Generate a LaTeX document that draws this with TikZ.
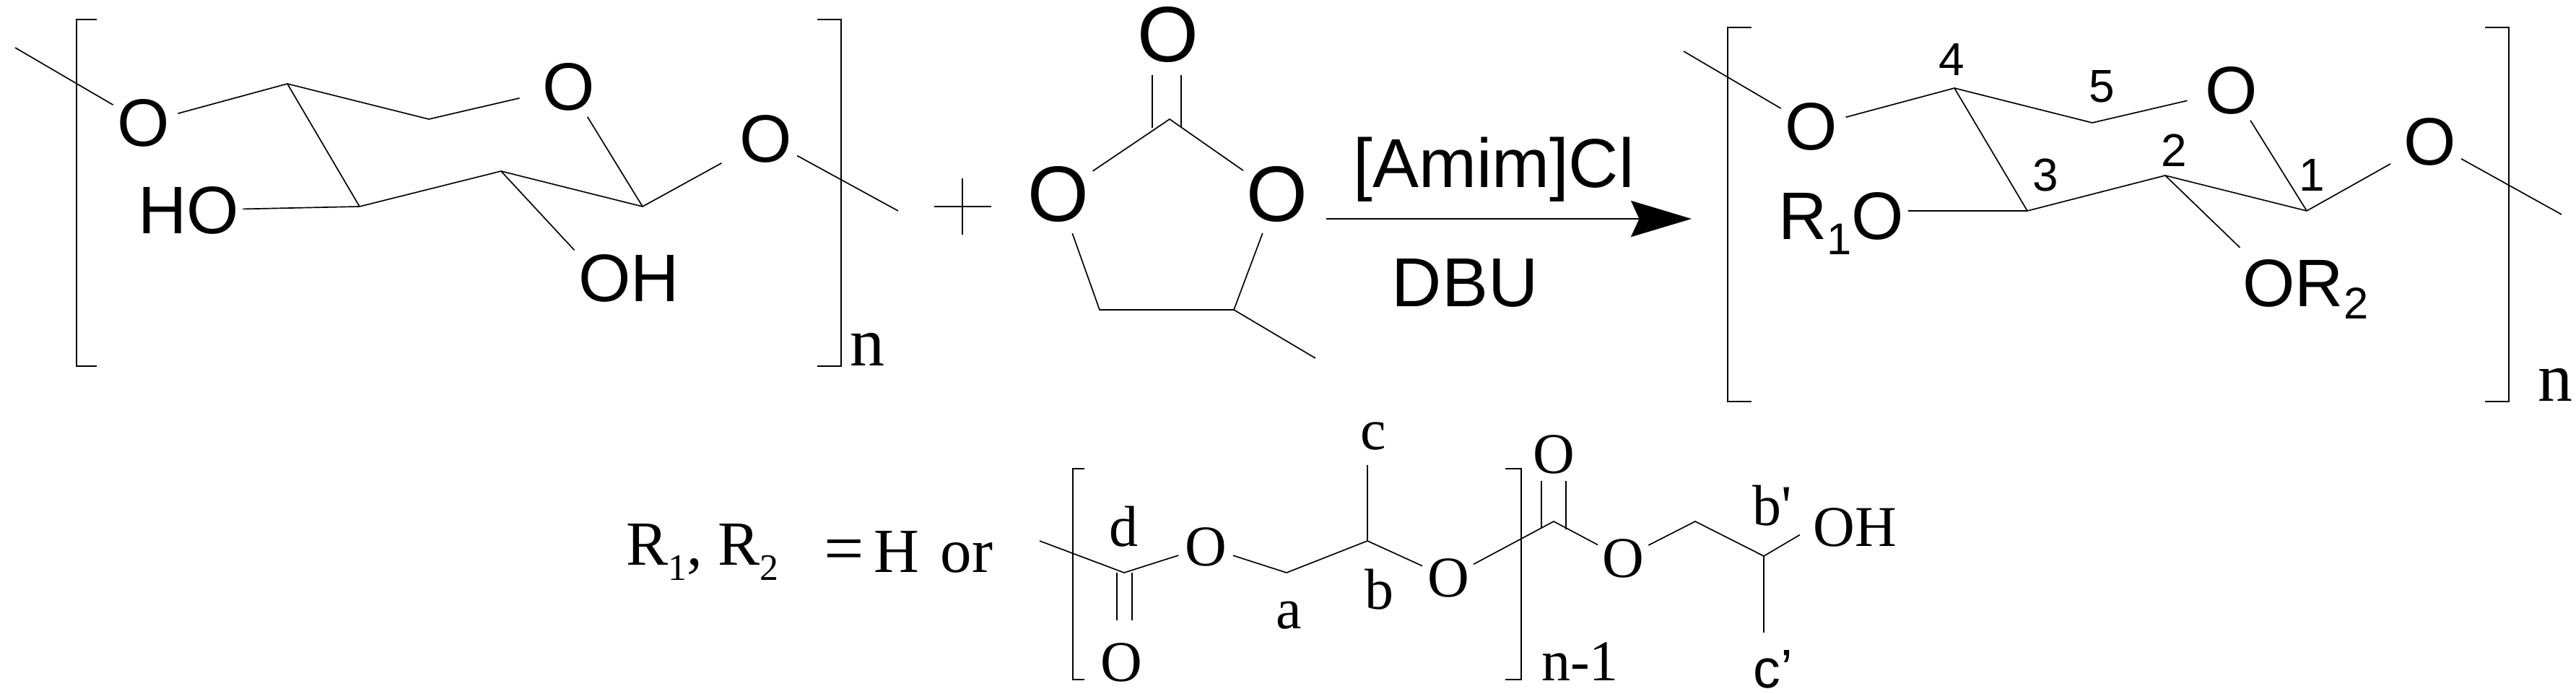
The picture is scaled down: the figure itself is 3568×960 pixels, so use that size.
\documentclass[tikz,border=0pt]{standalone}
\usepackage{fontspec}
\setmainfont{Liberation Sans}
\newfontfamily\timesfont{Liberation Serif}
\usetikzlibrary{arrows.meta}
% sizes below are pt for a picture drawn at 1 unit = 1 pixel of the reference
\def\lowerone#1{\raisebox{-12pt}{\fontsize{35}{35}\selectfont #1}}
\def\lowertwo#1{\raisebox{-10pt}{\fontsize{35}{35}\selectfont #1}}
\def\lowerthree#1{\raisebox{-12pt}{\fontsize{29.5}{30}\selectfont #1}}
\tikzset{
  bond/.style={line width=0.95pt},
  bracket/.style={line width=0.9pt},
  atom/.style={circle,inner sep=0pt,font=\fontsize{53}{53}\selectfont},
  bigatom/.style={circle,inner sep=0pt,font=\fontsize{62}{62}\selectfont},
  group/.style={inner sep=3pt,font=\fontsize{53}{53}\selectfont},
  reagent/.style={inner sep=0pt,anchor=base,font=\fontsize{54.6}{55}\selectfont},
  locant/.style={inner sep=0pt,font=\fontsize{36.4}{37}\selectfont},
  times/.style={inner sep=0pt,font=\timesfont\fontsize{45.5}{46}\selectfont},
  timesatom/.style={circle,inner sep=0pt,font=\timesfont\fontsize{45.5}{46}\selectfont},
  repeat/.style={inner sep=0pt,anchor=base west,font=\timesfont\fontsize{54.6}{55}\selectfont},
  legend/.style={inner sep=0pt,anchor=base west,font=\timesfont\fontsize{49.5}{50}\selectfont},
}
\begin{document}
\begin{tikzpicture}[x=0.02cm,y=-0.02cm]
	\useasboundingbox (0,0) rectangle (3568,960);

	%%%%% cellulose %%%%%
	\node[atom] (oa) at (199,170) {O};
	\node[atom] (ob) at (788,120) {O};
	\node[atom] (oc) at (1061,192) {O};
	\node[group] (ho) at (261,291) {HO};
	\node[group] (oh) at (871,385) {OH};
	\coordinate (ca) at (398,116);
	\coordinate (cb) at (594,165);
	\coordinate (cc) at (498,286);
	\coordinate (cd) at (694,237);
	\coordinate (ce) at (890,286);
	\coordinate (enda) at (21,66);
	\coordinate (endb) at (1244,292);
	\draw[bond] (enda) -- (oa);
	\draw[bond] (oa) -- (ca) -- (cb);
	\draw[bond,shorten >=12] (cb) -- (ob);
	\draw[bond] (ca) -- (cc) -- (cd) -- (ce);
	\draw[bond,shorten >=12] (ce) -- (oc);
	\draw[bond] (ob) -- (ce);
	\draw[bond] (oc) -- (endb);
	\draw[bond] (ho) -- (cc);
	\draw[bond] (cd) -- (oh.north west);
	\draw[bracket] (134,27) -| (106,507) -- (134,507);
	\draw[bracket] (1132,27) -| (1165,507) -- (1132,507);
	\node[repeat] (na) at (1177,506) {n};

	\draw[line width=0.8pt] (1294,286) -- (1373,286) (1333,247) -- (1333,325);

	%%%%% carbonate %%%%%
	\node[bigatom] (od) at (1466,269) {O};
	\node[bigatom] (oe) at (1769,269) {O};
	\node[bigatom] (of) at (1618,48) {O};
	\coordinate (cf) at (1620,165);
	\coordinate (cg) at (1523,429);
	\coordinate (ch) at (1709,429);
	\coordinate (endc) at (1822,496);
	\draw[bond] (od) -- (cf) -- (oe);
	\draw[bond] (od) -- (cg) -- (ch) -- (oe);
	\draw[bond] (ch) -- (endc);
	\draw[bond] (1596,104) -- (1596,177) (1636,104) -- (1636,176);

	%%%%% arrow %%%%%
	\coordinate (arrowa) at (1837,303);
	\coordinate (arrowb) at (2343,303);
	\draw[line width=1.4pt,-{Stealth[length=47.8pt,width=28.5pt,inset=6.5pt]}] (arrowa) -- (arrowb);
	\node[reagent] (amim) at (2069,259) {[Amim]Cl};
	\node[reagent] (dbu) at (2029,424) {DBU};

	%%%%% product %%%%%
	\node[atom] (og) at (2509,175) {O};
	\node[atom] (oi) at (3091,125) {O};
	\node[atom] (oj) at (3366,196) {O};
	\node[group,anchor=base west,inner sep=0pt] (rone) at (2463,331) {R\lowerone{1}O};
	\node[group,anchor=base west,inner sep=0pt] (rtwo) at (3106,424) {OR\lowertwo{2}};
	\coordinate (ci) at (2707,122);
	\coordinate (cj) at (2898,170);
	\coordinate (ck) at (2808,292);
	\coordinate (cl) at (2999,243);
	\coordinate (cm) at (3195,292);
	\coordinate (endd) at (2332,71);
	\coordinate (ende) at (3548,297);
	\draw[bond] (endd) -- (og);
	\draw[bond] (og) -- (ci) -- (cj);
	\draw[bond,shorten >=8] (cj) -- (oi);
	\draw[bond] (ci) -- (ck) -- (cl) -- (cm);
	\draw[bond,shorten >=8] (cm) -- (oj);
	\draw[bond] (oi) -- (cm);
	\draw[bond] (oj) -- (ende);
	\draw[bond,shorten <=3] (rone.east |- ck) -- (ck);
	\draw[bond] (cl) -- ([xshift=-2,yshift=9]rtwo.north west);
	\draw[bracket] (2426,38) -| (2393,556) -- (2426,556);
	\draw[bracket] (3442,38) -| (3475,556) -- (3442,556);
	\node[repeat] (nb) at (3515,555) {n};
	\node[locant] (la) at (2703,82) {4};
	\node[locant] (lb) at (2911,120) {5};
	\node[locant] (lc) at (3011,208) {2};
	\node[locant] (ld) at (2833,242) {3};
	\node[locant] (le) at (3202,242) {1};

	%%%%% side chain %%%%%
	\node[legend] (rr) at (867,782) {R\lowerthree{1}, R\lowerthree{2}};
	\node[legend,font=\timesfont\fontsize{56}{56}\selectfont] (eq) at (1141,792) {=};
	\node[legend] (hor) at (1210,792) {H\hspace{17pt}or};
	\node[timesatom] (ok) at (1670,757) {O};
	\node[timesatom] (ol) at (1553,917) {O};
	\node[timesatom] (om) at (2006,800) {O};
	\node[timesatom] (on) at (2152,629) {O};
	\node[timesatom] (oo) at (2248,773) {O};
	\node[times,anchor=base west] (ohb) at (2511,756) {OH};
	\coordinate (cn) at (1557,793);
	\coordinate (co) at (1782,793);
	\coordinate (cp) at (1894,749);
	\coordinate (cq) at (2152,722);
	\coordinate (cr) at (2348,722);
	\coordinate (cs) at (2443,770);
	\coordinate (endf) at (1440,749);
	\coordinate (endg) at (1894,644);
	\coordinate (endh) at (2443,876);
	\draw[bond] (endf) -- (cn) -- (ok) -- (co) -- (cp) -- (om) -- (cq) -- (oo) -- (cr) -- (cs);
	\draw[bond,shorten >=12] (cs) -- (ohb.west);
	\draw[bond] (cp) -- (endg);
	\draw[bond] (cs) -- (endh);
	\draw[bond] (1547,793) -- (1547,859) (1568,793) -- (1568,859);
	\draw[bond] (2135,666) -- (2135,731) (2169,666) -- (2169,733);
	\draw[bracket] (1502,649) -| (1486,941) -- (1502,941);
	\draw[bracket] (2085,649) -| (2107,941) -- (2085,941);
	\node[times,anchor=base west] (nc) at (2135,942) {n-1};
	\node[times,anchor=base west] (ta) at (1767,870) {a};
	\node[times,anchor=base west] (tb) at (1890,843) {b};
	\node[times,anchor=base west] (tc) at (1884,622) {c};
	\node[times,anchor=base west] (td) at (1536,756) {d};
	\node[times,anchor=base west] (tbb) at (2427,727) {b\symbol{39}};
	\node[anchor=base west,inner sep=0pt,font=\fontsize{43}{43}\selectfont] (tcc) at (2428,952) {c\symbol{39}};
\end{tikzpicture}
\end{document}
